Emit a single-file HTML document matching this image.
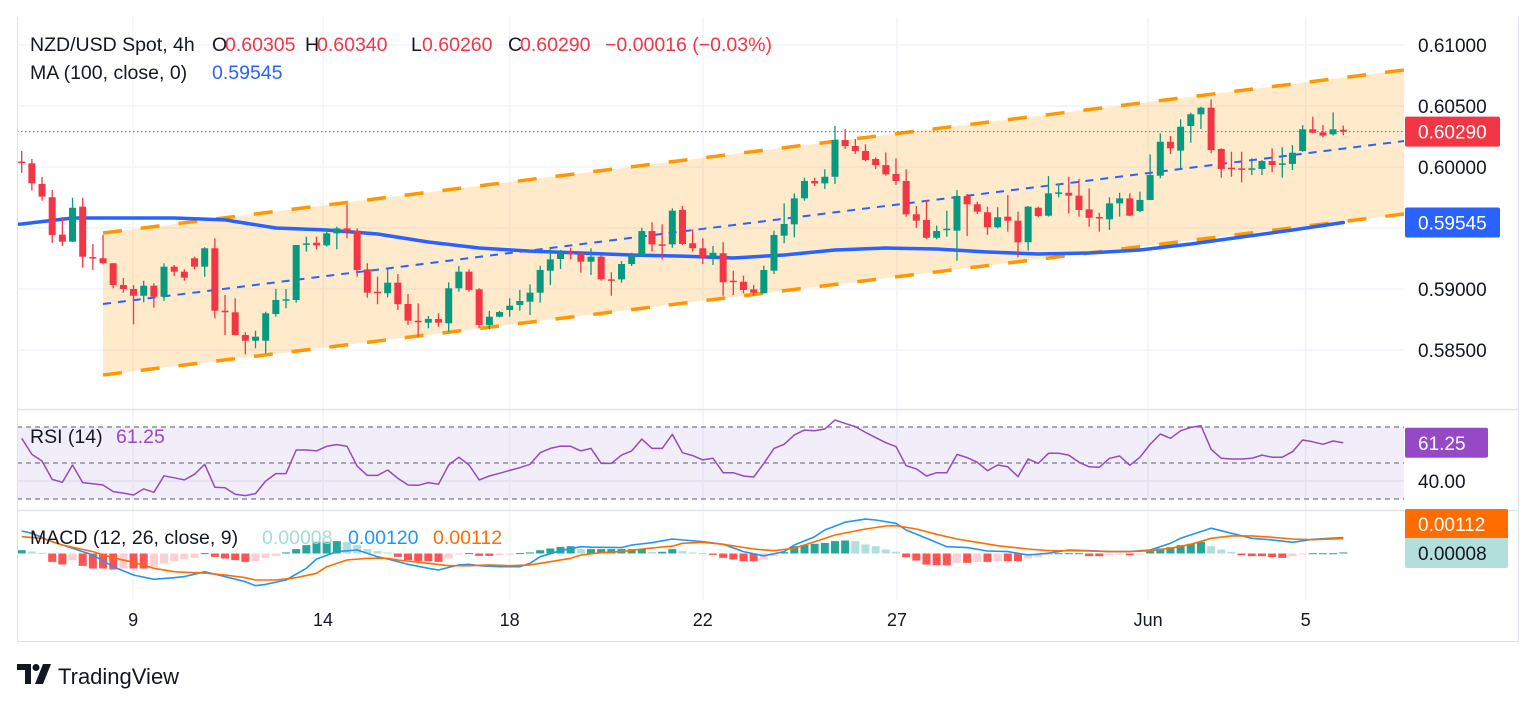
<!DOCTYPE html>
<html><head><meta charset="utf-8"><title>NZD/USD 4h</title>
<style>
html,body{margin:0;padding:0;background:#fff;}
svg{display:block;font-family:"Liberation Sans",sans-serif;}
</style></head>
<body>
<svg id="chart" width="1536" height="704" viewBox="0 0 1536 704" xmlns="http://www.w3.org/2000/svg">
  <defs>
    <clipPath id="mainClip"><rect x="17" y="17" width="1387" height="391"/></clipPath>
    <clipPath id="rsiClip"><rect x="17" y="410" width="1387" height="99"/></clipPath>
    <clipPath id="macdClip"><rect x="17" y="511" width="1387" height="90"/></clipPath>
  </defs>
  <rect x="0" y="0" width="1536" height="704" fill="#ffffff"/>
  <g id="grid"></g>
  <g id="mainPane" clip-path="url(#mainClip)"></g>
  <g id="rsiPane" clip-path="url(#rsiClip)"></g>
  <g id="macdPane" clip-path="url(#macdClip)"></g>
  <g id="frame">
    <line x1="17" y1="409.5" x2="1519" y2="409.5" stroke="#e0e3eb" stroke-width="1.5"/>
    <line x1="17" y1="510.5" x2="1519" y2="510.5" stroke="#e0e3eb" stroke-width="1.5"/>
    <line x1="17" y1="641.5" x2="1519" y2="641.5" stroke="#e0e3eb" stroke-width="1"/>
    <line x1="17.5" y1="17" x2="17.5" y2="642" stroke="#e0e3eb" stroke-width="1"/>
    <line x1="1518.5" y1="17" x2="1518.5" y2="642" stroke="#e0e3eb" stroke-width="1"/>
  </g>
  <g id="axes"></g>
  <g id="legend">
    <text x="30" y="51" font-size="19.5" fill="#131722">NZD/USD Spot, 4h</text>
    <text y="51" font-size="19.5"><tspan x="212" fill="#131722">O</tspan><tspan x="225" fill="#f23645">0.60305</tspan><tspan x="305" fill="#131722">H</tspan><tspan x="317" fill="#f23645">0.60340</tspan><tspan x="411" fill="#131722">L</tspan><tspan x="422" fill="#f23645">0.60260</tspan><tspan x="508" fill="#131722">C</tspan><tspan x="520" fill="#f23645">0.60290</tspan><tspan x="605" fill="#f23645">−0.00016 (−0.03%)</tspan></text>
    <text x="30" y="79" font-size="19.5" fill="#131722">MA (100, close, 0)</text>
    <text x="212" y="79" font-size="19.5" fill="#2962ff">0.59545</text>
    <text x="30" y="443" font-size="19.5" fill="#131722">RSI (14)</text>
    <text x="116" y="443" font-size="19.5" fill="#9549c4">61.25</text>
    <text x="30" y="544" font-size="19.5" fill="#131722">MACD (12, 26, close, 9)</text>
    <text x="262" y="544" font-size="19.5" fill="#a3ddd4">0.00008</text>
    <text x="348" y="544" font-size="19.5" fill="#2196f3">0.00120</text>
    <text x="433" y="544" font-size="19.5" fill="#ff6d00">0.00112</text>
  </g>
  <g id="footer">
    <path d="M17 664 H31 V684 H25 V670 H17 Z" fill="#131722"/>
    <circle cx="36" cy="667.5" r="3.5" fill="#131722"/>
    <path d="M43 664 H51 L43 684 H35 Z" fill="#131722"/>
    <text x="58" y="684" font-size="22" fill="#131722">TradingView</text>
  </g>
</svg>
<script>
// ---- data ----
const opens = [.60045,.60030,.59861,.59752,.59445,.59388,.59675,.59262,.59252,.59211,
.59033,.59000,.58945,.59027,.58937,.59183,.59142,.59252,.59183,.59334,
.58822,.58809,.58623,.58576,.58576,.58795,.58910,.58910,.59366,.59379,
.59358,.59456,.59497,.59478,.59161,.58978,.58965,.59052,.58877,.58740,
.58724,.58754,.58719,.59006,.59142,.58997,.58705,.58773,.58828,.58869,
.58896,.58970,.59150,.59246,.59297,.59293,.59224,.59265,.59079,.59079,
.59205,.59270,.59475,.59366,.59366,.59648,.59375,.59334,.59260,.59293,
.59068,.59060,.58997,.58965,.59150,.59437,.59530,.59743,.59885,.59866,
.59920,.60221,.60172,.60131,.60066,.60016,.59943,.59885,.59612,.59566,
.59420,.59492,.59478,.59762,.59694,.59629,.59506,.59593,.59560,.59383,
.59666,.59601,.59789,.59789,.59765,.59653,.59590,.59571,.59702,.59743,
.59639,.59730,.59929,.60207,.60134,.60336,.60432,.60486,.60148,.59994,
.59989,.59981,.59984,.60049,.60025,.60025,.60131,.60309,.60284,.60268,
.60305];
const highs = [.60131,.60066,.59918,.59811,.59590,.59748,.59748,.59369,.59443,.59213,
.59090,.59033,.59068,.59047,.59211,.59197,.59161,.59265,.59342,.59416,
.58951,.58924,.58645,.58658,.58814,.59000,.59000,.59361,.59429,.59429,
.59497,.59511,.59694,.59497,.59211,.59101,.59170,.59123,.58959,.58883,
.58779,.58801,.59055,.59188,.59161,.59006,.58820,.58820,.58924,.58992,
.59038,.59191,.59338,.59320,.59338,.59301,.59334,.59279,.59137,.59229,
.59297,.59502,.59547,.59530,.59661,.59680,.59489,.59416,.59352,.59383,
.59150,.59109,.59033,.59191,.59478,.59702,.59784,.59912,.59912,.59981,
.60336,.60311,.60229,.60186,.60079,.60120,.60071,.59981,.59680,.59730,
.59519,.59642,.59811,.59779,.59716,.59675,.59670,.59770,.59634,.59680,
.59675,.59926,.59861,.59920,.59902,.59825,.59625,.59752,.59789,.59784,
.59798,.60104,.60276,.60254,.60391,.60445,.60494,.60555,.60153,.60125,
.60125,.60071,.60057,.60153,.60161,.60180,.60344,.60412,.60344,.60448,
.60340];
const lows = [.59951,.59806,.59724,.59377,.59352,.59385,.59175,.59156,.59202,.59006,
.58970,.58711,.58891,.58847,.58902,.59107,.59068,.59161,.59101,.58760,
.58623,.58620,.58465,.58514,.58473,.58773,.58842,.58888,.59306,.59325,
.59347,.59325,.59416,.59101,.58929,.58875,.58932,.58828,.58705,.58609,
.58678,.58691,.58650,.58978,.58978,.58678,.58670,.58768,.58773,.58822,
.58787,.58888,.59033,.59164,.59243,.59134,.59115,.59068,.58945,.59052,
.59188,.59265,.59306,.59243,.59338,.59361,.59306,.59205,.59197,.58945,
.58951,.58965,.58945,.58963,.59123,.59375,.59424,.59724,.59844,.59820,
.59861,.60148,.60107,.60049,.59984,.59929,.59852,.59593,.59502,.59410,
.59407,.59429,.59232,.59434,.59615,.59443,.59497,.59470,.59260,.59314,
.59588,.59593,.59752,.59620,.59593,.59511,.59470,.59484,.59593,.59598,
.59629,.59728,.59907,.60107,.59984,.60199,.60311,.60112,.59912,.59920,
.59875,.59934,.59934,.59957,.59912,.59975,.60125,.60276,.60243,.60257,
.60260];
const closes = [.60040,.59866,.59757,.59443,.59388,.59666,.59265,.59258,.59211,.59033,
.59000,.58945,.59027,.58937,.59183,.59142,.59093,.59183,.59334,.58822,
.58809,.58623,.58576,.58609,.58801,.58910,.58916,.59361,.59374,.59358,
.59456,.59497,.59470,.59156,.58970,.58975,.59052,.58875,.58740,.58727,
.58754,.58724,.59006,.59142,.58992,.58705,.58773,.58811,.58863,.58902,
.58970,.59156,.59243,.59297,.59284,.59224,.59265,.59079,.59068,.59205,
.59279,.59475,.59366,.59361,.59642,.59369,.59334,.59260,.59297,.59055,
.59065,.58992,.58970,.59156,.59443,.59533,.59743,.59885,.59866,.59920,
.60221,.60172,.60131,.60057,.60016,.59940,.59885,.59612,.59560,.59420,
.59475,.59494,.59762,.59694,.59634,.59506,.59588,.59560,.59383,.59675,
.59598,.59784,.59792,.59765,.59648,.59584,.59586,.59702,.59743,.59601,
.59730,.59934,.60207,.60153,.60330,.60432,.60486,.60139,.59984,.59990,
.59981,.59989,.60049,.60016,.60030,.60117,.60309,.60281,.60257,.60309,
.60290];
const maIdx = [-0.5,0,5,10,15,20,25,30,35,40,45,50,55,60,65,70,75,80,85,90,95,100,105,110,115,120,125,130];
const maVals = [.59530,.59533,.59582,.59582,.59582,.59566,.59500,.59484,.59451,.59385,.59336,.59311,.59295,.59279,.59270,.59254,.59279,.59320,.59336,.59328,.59303,.59287,.59295,.59320,.59369,.59426,.59484,.59545];
const channelIdx = [8, 136];
const channelUpper = [.59459, .60795];
const channelMid = [.58877, .60213];
const channelLower = [.58295, .59615];
const rsiVals = [63.7,54.8,51.1,40.9,39.3,48.9,39.1,38.5,37.8,34.1,33.3,32.2,35.6,33.7,42.9,41.8,40.6,43.7,49.3,36.5,
36.3,32.6,31.9,33.0,40.0,44.1,44.1,57.2,57.2,56.7,59.3,60.2,59.3,48.2,43.1,43.1,46.1,41.5,37.8,37.6,
39.1,38.2,48.9,53.2,48.9,40.6,42.8,44.3,45.9,47.4,49.3,55.7,58.1,59.4,59.3,56.7,58.1,49.8,49.8,54.4,
56.7,63.3,58.1,58.1,65.9,55.7,54.1,51.7,52.6,44.6,44.6,42.8,42.2,49.8,58.1,60.4,65.6,68.3,67.9,68.9,
73.9,72.0,70.2,67.0,64.1,61.3,59.1,48.5,46.7,42.8,44.6,44.6,54.8,53.0,50.4,45.7,48.9,47.9,42.4,52.2,
49.8,55.4,55.4,54.4,50.4,47.9,47.6,52.6,53.9,48.7,53.2,60.4,66.1,63.7,67.9,69.8,70.7,57.6,52.6,52.2,
52.2,52.6,54.4,53.2,53.2,56.3,62.8,61.8,60.4,62.2,61.25];
const rsiLevels = [70, 50, 30];
// MACD values in units of 1e-5
const macdIdx = [0,1,3,5,7,9,11,13,15,16,18,20,22,23,24,26,28,29,31,33,35,36,38,40,41,43,44,45,47,49,50,51,53,55,56,59,60,62,64,67,69,71,73,75,76,78,79,81,83,84,86,87,89,91,93,95,97,99,101,103,105,107,109,111,113,114,117,119,121,123,125,127,130];
const macdVals = [169,152,89,39,-11,-99,-162,-194,-182,-174,-137,-174,-212,-242,-232,-199,-111,-41,14,26,-24,-41,-81,-111,-124,-86,-81,-92,-99,-99,-74,-24,21,51,47,44,64,81,109,89,69,14,-17,14,64,126,177,235,259,252,227,177,114,51,44,19,14,-11,2,26,21,14,14,26,77,114,190,152,114,102,84,107,120];
const signalIdx = [0,2,4,7,9,11,13,15,16,18,20,22,23,25,27,29,30,32,34,36,37,40,42,44,46,48,50,52,54,55,57,59,61,64,65,67,69,72,74,76,78,80,83,85,86,88,90,92,94,96,99,101,103,105,107,109,111,113,115,117,119,121,123,125,127,130];
const signalVals = [126,114,64,14,-32,-66,-111,-137,-141,-147,-162,-182,-199,-199,-182,-149,-99,-49,-36,-36,-49,-74,-92,-92,-86,-92,-86,-62,-36,-11,6,14,34,56,77,84,69,34,21,39,89,139,184,207,209,184,144,109,84,59,34,21,21,19,14,14,21,39,69,114,132,132,122,109,104,112];
const histVals = [25,15,5,-63,-83,-50,-93,-113,-113,-120,-113,-113,-113,-100,-75,-58,-43,-33,3,-25,
-38,-50,-63,-58,-33,-18,8,33,63,88,88,93,88,63,33,18,8,-25,-50,-58,
-58,-63,-38,-8,3,-18,-18,-13,-8,3,8,25,38,50,55,33,33,33,33,33,
33,33,13,13,33,18,8,3,-10,-33,-45,-58,-58,-45,-20,10,55,63,73,80,
93,98,93,68,55,30,13,-28,-53,-83,-88,-88,-70,-70,-63,-63,-58,-58,-58,-38,
-28,-13,2,2,2,-20,-20,-13,-8,-13,-8,18,38,48,63,73,88,55,30,13,
-13,-20,-20,-28,-33,-20,-8,2,2,2,8];
const priceTicks = [0.61, 0.605, 0.60, 0.595, 0.59, 0.585];
const priceTickLabels = ["0.61000","0.60500","0.60000","","0.59000","0.58500"];
const timeTickIdx = [10.96, 29.64, 48.0, 67.0, 86.1, 110.8, 126.3];
const timeTickLabels = ["9","14","18","22","27","Jun","5"];
const lastPrice = 0.60290;
const lastMA = 0.59545;

// ---- scales ----
const NS = "http://www.w3.org/2000/svg";
function xOf(i){ return 21.7 + i*10.166; }
function yP(p){ return 45 + (0.61 - p)*12200; }
function yR(v){ return 463 - (v-50)*1.8; }
function yM(v){ return 553.5 - v*0.133; }
function mk(tag, attrs, parent){
  const e = document.createElementNS(NS, tag);
  for (const k in attrs) e.setAttribute(k, attrs[k]);
  parent.appendChild(e);
  return e;
}
const grid = document.getElementById('grid');
const main = document.getElementById('mainPane');
const rsiG = document.getElementById('rsiPane');
const macdG = document.getElementById('macdPane');
const axes = document.getElementById('axes');

priceTicks.forEach(p => {
  const l = mk('line', {x1:17, x2:1404, y1:yP(p), y2:yP(p), stroke:'#f0f3fa', 'stroke-width':1.5}, grid);
  
  
});
mk('line', {x1:17, x2:1404, y1:yR(40), y2:yR(40), stroke:'#eceff5', 'stroke-width':1.5}, grid);
timeTickIdx.forEach(i => {
  const l = mk('line', {x1:xOf(i), x2:xOf(i), y1:17, y2:600, stroke:'#f0f3fa', 'stroke-width':1.5}, grid);
  
  
});

const xa = xOf(channelIdx[0]), xb = xOf(channelIdx[1]);
const fill = mk('polygon', {points:`${xa},${yP(channelUpper[0])} ${xb},${yP(channelUpper[1])} ${xb},${yP(channelLower[1])} ${xa},${yP(channelLower[0])}`, fill:'rgba(255,152,0,0.2)'}, main);


const cu = mk('line', {x1:xa, y1:yP(channelUpper[0]), x2:xb, y2:yP(channelUpper[1]), stroke:'#ff9800', 'stroke-width':3.5, 'stroke-dasharray':'19 19'}, main);


const cl = mk('line', {x1:xa, y1:yP(channelLower[0]), x2:xb, y2:yP(channelLower[1]), stroke:'#ff9800', 'stroke-width':3.5, 'stroke-dasharray':'19 19'}, main);


const cm = mk('line', {x1:xa, y1:yP(channelMid[0]), x2:xb, y2:yP(channelMid[1]), stroke:'#2962ff', 'stroke-width':2, 'stroke-dasharray':'8 7'}, main);



const lp = mk('line', {x1:17, x2:1404, y1:yP(lastPrice), y2:yP(lastPrice), stroke:'#f23645', 'stroke-width':1, 'stroke-dasharray':'1.5 2.5'}, main);



const maPts = maIdx.map((i,k) => `${xOf(i).toFixed(1)},${yP(maVals[k]).toFixed(1)}`).join(' ');
const ma = mk('polyline', {points:maPts, fill:'none', stroke:'#2962ff', 'stroke-width':3.5, 'stroke-linejoin':'round', 'stroke-linecap':'round'}, main);



for (let i = 0; i < closes.length; i++) {
  const up = closes[i] >= opens[i];
  const col = up ? '#089981' : '#f23645';
  const g = mk('g', {}, main);
  
  
  const x = xOf(i);
  mk('line', {x1:x, x2:x, y1:yP(highs[i]), y2:yP(lows[i]), stroke:col, 'stroke-width':1.3}, g);
  const yt = yP(Math.max(opens[i], closes[i])), yb = yP(Math.min(opens[i], closes[i]));
  mk('rect', {x:x-3.5, y:yt, width:7, height:Math.max(1.5, yb-yt), fill:col}, g);
}

const band = mk('rect', {x:17, y:yR(rsiLevels[0]), width:1387, height:yR(rsiLevels[2])-yR(rsiLevels[0]), fill:'rgba(126,87,194,0.1)'}, rsiG);


rsiLevels.forEach(v => {
  const l = mk('line', {x1:17, x2:1404, y1:yR(v), y2:yR(v), stroke:'#787b86', 'stroke-width':1.3, 'stroke-dasharray':'5 4'}, rsiG);
  
  
});
const rsiPts = rsiVals.map((v,i) => `${xOf(i).toFixed(1)},${yR(v).toFixed(1)}`).join(' ');
const rsiLine = mk('polyline', {points:rsiPts, fill:'none', stroke:'#9549c4', 'stroke-width':1.5, 'stroke-linejoin':'round'}, rsiG);



for (let i = 0; i < histVals.length; i++) {
  const v = histVals[i];
  const prev = i > 0 ? histVals[i-1] : v;
  let col;
  if (v >= 0) col = v >= prev ? '#26a69a' : '#b2dfdb';
  else col = v <= prev ? '#ff5252' : '#ffcdd2';
  const y0 = yM(0), y1 = yM(v);
  const r = mk('rect', {x:xOf(i)-4, y:Math.min(y0,y1), width:8, height:Math.max(1, Math.abs(y1-y0)), fill:col}, macdG);
  
  
}
const macdPts = macdIdx.map((i,k) => `${xOf(i).toFixed(1)},${yM(macdVals[k]).toFixed(1)}`).join(' ');
const macdLine = mk('polyline', {points:macdPts, fill:'none', stroke:'#2196f3', 'stroke-width':1.6, 'stroke-linejoin':'round'}, macdG);


const sigPts = signalIdx.map((i,k) => `${xOf(i).toFixed(1)},${yM(signalVals[k]).toFixed(1)}`).join(' ');
const sigLine = mk('polyline', {points:sigPts, fill:'none', stroke:'#ff6d00', 'stroke-width':1.6, 'stroke-linejoin':'round'}, macdG);



priceTicks.forEach((p,k) => {
  if (!priceTickLabels[k]) return;
  const t = mk('text', {x:1418, y:yP(p)+7, 'font-size':19, fill:'#131722'}, axes);
  t.textContent = priceTickLabels[k];
  
  
});
function tag(y, text, bg, fg, name, w){
  const g = mk('g', {}, axes);
  
  
  mk('rect', {x:1405, y:y-15, width:w||95, height:30, rx:2, fill:bg}, g);
  const t = mk('text', {x:1418, y:y+7, 'font-size':19, fill:fg}, g);
  t.textContent = text;
}
tag(yP(lastPrice), lastPrice.toFixed(5), '#f23645', '#ffffff', 'last-price-label');
tag(yP(lastMA), lastMA.toFixed(5), '#2962ff', '#ffffff', 'ma-price-label');
tag(yR(61.25), '61.25', '#9549c4', '#ffffff', 'rsi-value-label', 83);
const t40 = mk('text', {x:1418, y:yR(40)+7, 'font-size':19, fill:'#131722'}, axes);
t40.textContent = '40.00';


tag(524, '0.00112', '#ff6d00', '#ffffff', 'signal-value-label', 103);
tag(553, '0.00008', '#b2dfdb', '#131722', 'histogram-value-label', 103);

timeTickIdx.forEach((i,k) => {
  const t = mk('text', {x:xOf(i), y:626, 'font-size':18, fill:'#131722', 'text-anchor':'middle'}, axes);
  t.textContent = timeTickLabels[k];
  
  
});
</script>
</body></html>
